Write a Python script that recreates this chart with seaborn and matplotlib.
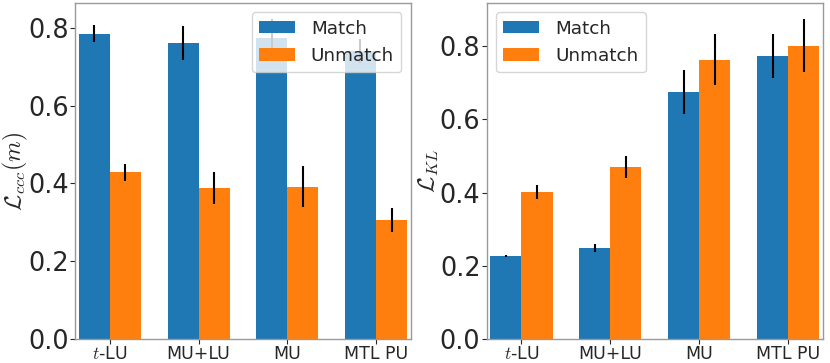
import numpy as np
import pandas as pd
import seaborn as sns
import matplotlib
matplotlib.use('Agg')
import matplotlib.pyplot as plt

# data
methods = ['$t$-LU', 'MU+LU', 'MU', 'MTL PU']
groups = ['Match', 'Unmatch']

ccc_match = [0.785, 0.761, 0.773, 0.740]
ccc_match_err = [0.022, 0.043, 0.049, 0.030]
ccc_unmatch = [0.429, 0.387, 0.392, 0.306]
ccc_unmatch_err = [0.022, 0.041, 0.052, 0.030]

kl_match = [0.227, 0.249, 0.674, 0.774]
kl_match_err = [0.003, 0.010, 0.060, 0.060]
kl_unmatch = [0.402, 0.470, 0.763, 0.802]
kl_unmatch_err = [0.020, 0.031, 0.070, 0.072]

sns.set_style('white')
plt.rcParams['font.family'] = ['DejaVu Sans']
plt.rcParams['mathtext.fontset'] = 'cm'

def make_df(match, unmatch):
    return pd.DataFrame({
        'method': methods * 2,
        'group': [groups[0]] * 4 + [groups[1]] * 4,
        'value': list(match) + list(unmatch),
    })

fig = plt.figure(figsize=(8.3, 3.63), dpi=100)
ax1 = fig.add_axes([0.0907, 0.0661, 0.404, 0.925])
ax2 = fig.add_axes([0.5864, 0.0661, 0.405, 0.925])

palette = {'Match': '#1f77b4', 'Unmatch': '#ff7f0e'}

def draw(ax, match, match_err, unmatch, unmatch_err, ylabel, loc, yfs):
    df = make_df(match, unmatch)
    sns.barplot(data=df, x='method', y='value', hue='group', palette=palette,
                width=0.7, gap=0, errorbar=None, saturation=1, linewidth=0,
                ax=ax)
    for cont, err in zip(ax.containers, [match_err, unmatch_err]):
        xs = [p.get_x() + p.get_width() / 2 for p in cont.patches]
        ys = [p.get_height() for p in cont.patches]
        ax.errorbar(xs, ys, yerr=err, fmt='none', ecolor='black',
                    elinewidth=1.5, capsize=0, zorder=3)
    top = max(max(np.array(match) + np.array(match_err)),
              max(np.array(unmatch) + np.array(unmatch_err))) * 1.05
    ax.set_ylim(0, top)
    ax.set_xlim(-0.39, 3.39)
    ax.set_yticks([0.0, 0.2, 0.4, 0.6, 0.8])
    ax.tick_params(axis='y', labelsize=18.4, length=3.5, left=True, pad=1)
    ax.tick_params(axis='x', labelsize=12.5, length=3.5, bottom=True, pad=1)
    ax.set_xlabel('')
    ax.set_ylabel(ylabel, fontsize=yfs, labelpad=-1)
    for s in ax.spines.values():
        s.set_color('#999999')
        s.set_linewidth(1)
    ax.legend(loc=loc, fontsize=13.2, handlelength=1.97, handletextpad=0.86,
              handleheight=0.66, framealpha=0.8, title=None)

draw(ax1, ccc_match, ccc_match_err, ccc_unmatch, ccc_unmatch_err,
     r'$\mathcal{L}_{ccc}(m)$', 'upper right', 17)
draw(ax2, kl_match, kl_match_err, kl_unmatch, kl_unmatch_err,
     r'$\mathcal{L}_{KL}$', 'upper left', 17)

fig.savefig('out.png', dpi=100)
